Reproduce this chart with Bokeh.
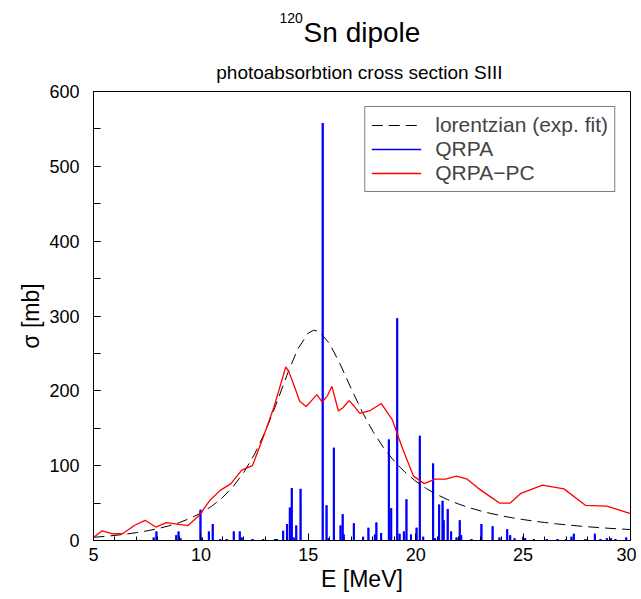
from bokeh.plotting import figure
from bokeh.models import (Legend, LegendItem, SingleIntervalTicker,
                          Range1d, ColumnDataSource, Title)
from bokeh.embed import file_html
from bokeh.resources import INLINE

FONT = "Liberation Sans"

# ---------------- data ----------------
# Lorentzian fit to experiment (dashed black)
lor_E = [5.0, 5.5, 6.0, 6.5, 7.0, 7.5, 8.0, 8.5, 9.0, 9.5, 10.0, 10.5, 11.0,
         11.5, 12.0, 12.5, 13.0, 13.5, 14.0, 14.5, 15.0, 15.25, 15.5, 16.0,
         16.5, 17.0, 17.5, 18.0, 18.5, 19.0, 19.5, 20.0, 20.5, 21.0, 21.5,
         22.0, 22.5, 23.0, 23.5, 24.0, 24.5, 25.0, 25.5, 26.0, 26.5, 27.0,
         27.5, 28.0, 28.5, 29.0, 29.5, 30.0]
lor_sigma = [4.3, 5.4, 6.8, 8.5, 10.5, 12.9, 15.9, 19.5, 24.0, 29.6, 36.7,
             45.7, 57.2, 72.0, 91.1, 115.4, 145.8, 181.8, 220.6, 255.5, 277.2,
             281.0, 279.4, 262.8, 234.6, 202.8, 172.5, 146.2, 124.1, 106.0,
             91.3, 79.2, 69.4, 61.2, 54.4, 48.7, 43.8, 39.7, 36.1, 33.0, 30.3,
             28.0, 25.9, 24.1, 22.4, 20.9, 19.6, 18.4, 17.3, 16.3, 15.4, 14.6]

# QRPA-PC (red)
pc_E = [5.0, 5.4, 5.9, 6.35, 6.9, 7.4, 7.9, 8.4, 8.9, 9.4, 9.9, 10.4, 10.9,
        11.4, 11.9, 12.4, 12.9, 13.4, 13.95, 14.1, 14.35, 14.6, 14.9, 15.15,
        15.4, 15.65, 15.9, 16.1, 16.4, 16.6, 16.9, 17.15, 17.4, 17.9, 18.4,
        18.9, 19.4, 19.9, 20.4, 20.9, 21.4, 21.9, 22.4, 22.9, 23.4, 23.9,
        24.4, 24.9, 25.9, 26.9, 27.9, 28.9, 30.0]
pc_sigma = [4, 13, 9, 9, 20, 27, 18, 24, 22, 20, 33, 53, 67, 76, 94, 100, 138,
            178, 232, 225, 206, 186, 179, 187, 195, 185, 194, 206, 173, 177,
            187, 179, 170, 174, 183, 162, 122, 86, 76, 82, 82, 86, 82, 70, 60,
            50, 50, 63, 74, 69, 47, 46, 36]

# QRPA discrete strengths (blue bars)
qrpa_E = [7.8, 7.93, 8.85, 8.96, 9.05, 9.98, 10.05, 10.37, 10.55, 10.9, 11.2,
          11.53, 11.81, 11.9, 12.4, 12.9, 13.45, 13.55, 13.83, 14.01, 14.14,
          14.23, 14.32, 14.44, 14.64, 15.67, 15.85, 15.95, 16.19, 16.5, 16.6,
          16.65, 17.12, 17.55, 17.8, 18.1, 18.17, 18.39, 18.75, 18.86, 19.14,
          19.25, 19.45, 19.57, 19.78, 20.04, 20.19, 20.35, 20.81, 20.9, 21.09,
          21.25, 21.3, 21.49, 21.65, 21.9, 22.05, 22.12, 22.6, 23.06, 23.58,
          23.9, 24.26, 24.4, 24.6, 25.0, 25.1, 25.5, 26.1, 26.6, 27.0, 27.25,
          27.36, 27.9, 28.34, 28.6, 28.9, 29.1, 29.3, 29.8]
qrpa_sigma = [4, 12, 7, 12, 3, 41, 4, 12, 22, 2, 2, 12, 12, 4, 2, 2, 2, 2, 13,
              22, 44, 70, 4, 20, 69, 558, 47, 3, 124, 20, 35, 8, 23, 5, 17, 8,
              24, 10, 135, 43, 297, 9, 12, 55, 8, 17, 140, 5, 103, 3, 48, 53,
              27, 42, 12, 4, 27, 7, 2, 22, 19, 4, 15, 7, 3, 5, 3, 2, 2, 2, 2,
              5, 9, 2, 9, 2, 3, 3, 2, 4]

x_ticks_step = 5
y_ticks_step = 100

# ---------------- figure ----------------
p = figure(width=636, height=598, output_backend="svg", toolbar_location=None,
           x_range=Range1d(5, 30), y_range=Range1d(0, 600),
           min_border_left=93, min_border_right=6, min_border_top=91,
           min_border_bottom=58)
p.background_fill_color = "white"
p.border_fill_color = "white"
p.outline_line_color = "black"
p.outline_line_width = 1
p.xgrid.visible = False
p.ygrid.visible = False

bars = ColumnDataSource(dict(x=qrpa_E, top=qrpa_sigma, zero=[0] * len(qrpa_E)))
p.vbar(x="x", top="top", bottom="zero", width=0.1, source=bars,
       fill_color="#0000ff", line_color=None)
r_q = p.segment(x0="x", y0="zero", x1="x", y1="top", source=bars,
                line_color="#0000ff", line_width=1.5)

r_lor = p.line(lor_E, lor_sigma, line_color="black", line_width=1,
               line_dash="11 6")
r_pc = p.line(pc_E, pc_sigma, line_color="#ff0000", line_width=1.3)

# axes
for ax in (p.xaxis[0], p.yaxis[0]):
    ax.major_tick_in = 7
    ax.major_tick_out = 0
    ax.minor_tick_out = 0
    ax.axis_line_color = "black"
    ax.major_tick_line_color = "black"
    ax.minor_tick_line_color = "black"
    ax.major_label_text_font = FONT
    ax.major_label_text_font_size = "18px"
    ax.major_label_text_color = "black"
    ax.axis_label_text_font = FONT
    ax.axis_label_text_font_size = "23px"
    ax.axis_label_text_font_style = "normal"
    ax.axis_label_text_color = "black"

p.xaxis.ticker = SingleIntervalTicker(interval=x_ticks_step, num_minor_ticks=5)
p.yaxis.ticker = SingleIntervalTicker(interval=y_ticks_step, num_minor_ticks=2)
p.xaxis.minor_tick_in = 4
p.yaxis.minor_tick_in = 7
p.xaxis.axis_label = "E [MeV]"
p.yaxis.axis_label = "σ [mb]"
p.xaxis.major_label_standoff = 7
p.xaxis.axis_label_standoff = 2
p.yaxis.major_label_standoff = 14
p.yaxis.axis_label_standoff = 2

# legend
legend = Legend(items=[
    LegendItem(label="lorentzian (exp. fit)", renderers=[r_lor]),
    LegendItem(label="QRPA", renderers=[r_q]),
    LegendItem(label="QRPA\u2212PC", renderers=[r_pc]),
], location="top_right")
legend.margin = 15
legend.padding = 6
legend.spacing = 0
legend.glyph_width = 50
legend.glyph_height = 22
legend.label_height = 22
legend.label_standoff = 14
legend.label_text_font = FONT
legend.label_text_font_size = "21px"
legend.border_line_color = "black"
legend.border_line_width = 1
legend.background_fill_alpha = 1
p.add_layout(legend)

# titles: innermost first
sub_title = Title(text="photoabsorbtion cross section  SIII", align="center",
                  text_font=FONT, text_font_size="19px",
                  text_font_style="normal", text_color="black", standoff=18)
p.add_layout(sub_title, "above")

main_title = Title(text="Sn dipole", align="center",
                   text_font=FONT, text_font_size="28px",
                   text_font_style="normal", text_color="black", standoff=5)
p.add_layout(main_title, "above")

# superscript mass number, outermost row pulled down onto the main title
p.title.text = "120"
p.title.align = "left"
p.title.offset = 186
p.title.text_font = FONT
p.title.text_font_size = "14px"
p.title.text_font_style = "normal"
p.title.text_color = "black"
try:
    p.title.standoff = -21
except ValueError:
    p.title.standoff = 0

open("out.html", "w").write(file_html(p, INLINE))
